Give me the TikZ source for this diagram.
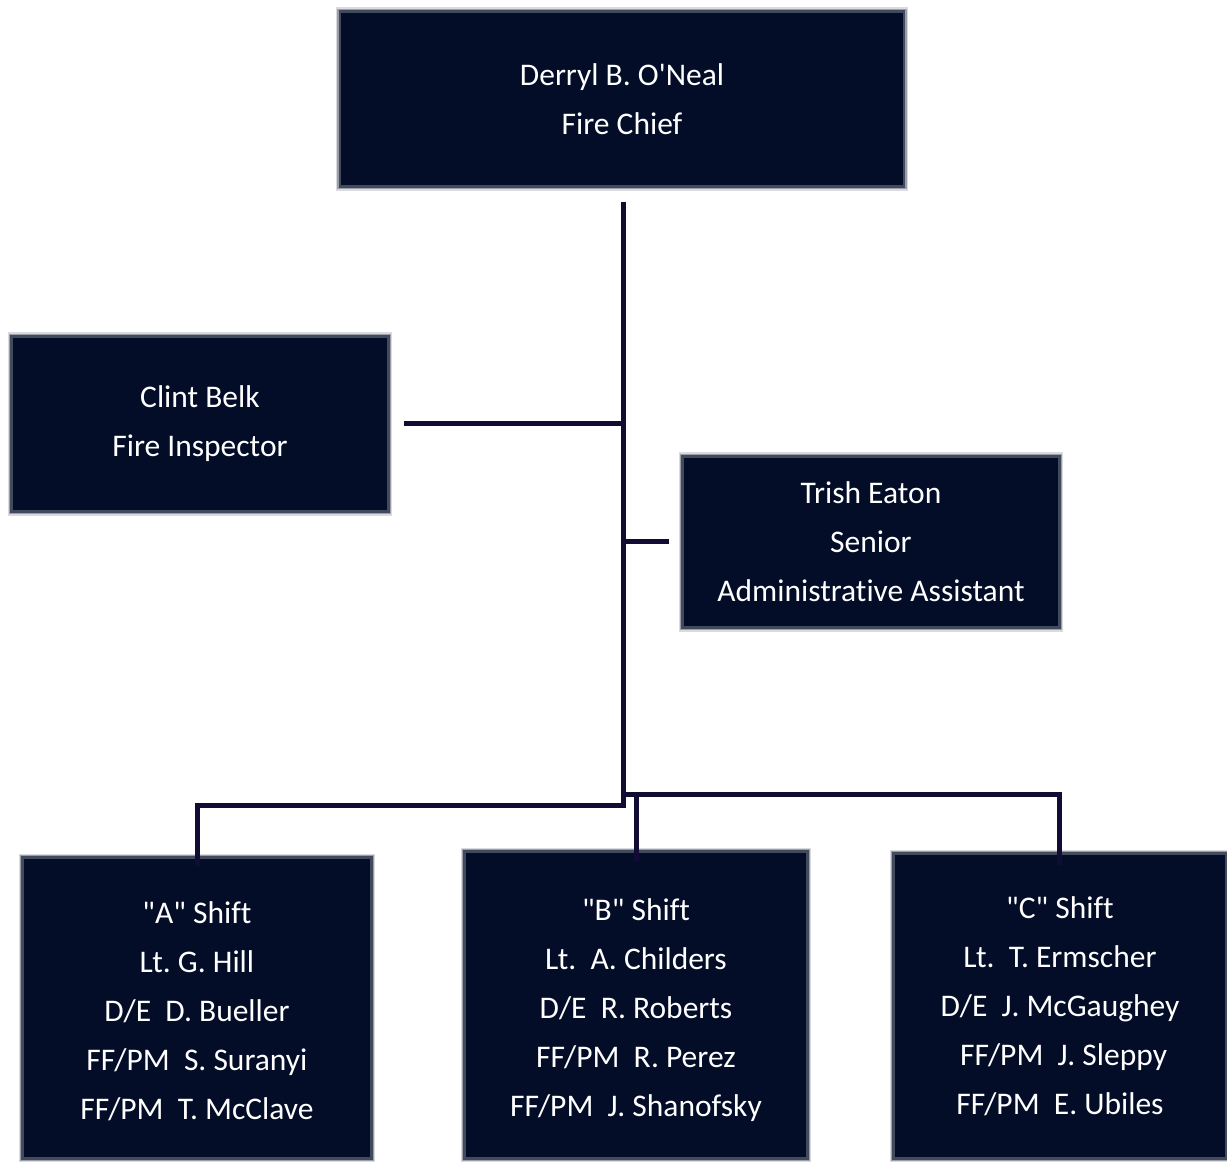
\documentclass[tikz,border=0pt]{standalone}
\usepackage{fontspec}
\newfontfamily\cf[Ligatures={NoCommon}]{Carlito}
\definecolor{boxc}{RGB}{3,13,40}
\definecolor{linec}{RGB}{16,12,52}
\begin{document}
\frenchspacing
\begin{tikzpicture}[x=1bp,y=-1bp,
  box/.style={rectangle, inner sep=0pt, fill=boxc,
    preaction={draw=boxc!15, line width=8bp},
    preaction={draw=boxc!40, line width=5.5bp},
    draw=boxc!75, line width=2.5bp,
    text=white, align=center, font=\cf\fontsize{31.5bp}{49bp}\selectfont\frenchspacing},
  conn/.style={draw=linec, line width=5bp}]
\useasboundingbox (0,0) rectangle (1227,1162);
\node[box, minimum width=566, minimum height=176] (chief) at (622,99) {Derryl B. O'Neal\\Fire Chief};
\node[box, minimum width=378, minimum height=176] (clint) at (200,424) {Clint Belk\\Fire Inspector};
\node[box, minimum width=378, minimum height=172] (trish) at (871,542) {Trish Eaton\\Senior\\Administrat\kern0pt ive Assistant};
\node[box, minimum width=350, minimum height=302] (A) at (197,1008) {\rule{0pt}{28bp}"A" Shift\\Lt. G. Hill\\D/E\ \ D. Bueller\\FF/PM\ \ S. Suranyi\\FF/PM\ \ T. McClave};
\node[box, minimum width=344, minimum height=308] (B) at (636,1005) {\rule{0pt}{33bp}"B" Shift\\Lt.\ \ A. Childers\\D/E\ \ R. Roberts\\FF/PM\ \ R. Perez\\FF/PM\ \ J. Shanofsky};
\node[box, minimum width=334, minimum height=306] (C) at (1060,1006) {"C" Shift\\Lt.\ \ T. Ermscher\\D/E\ \ J. McGaughey\\\hspace*{0.23em}FF/PM\ \ J. Sleppy\\FF/PM\ \ E. Ubiles};
\coordinate (jA) at (623,805.5);
\coordinate (jC) at (623,794.5);
\coordinate (jB) at (636.5,794.5);
% trunk
\draw[conn] ([yshift=-14bp]chief.south -| jA) -- ([yshift=2.5bp]jA);
% side branches
\draw[conn] ([xshift=14bp]clint.east |- 0,423) -- (623,423);
\draw[conn] ([xshift=-12bp]trish.west |- 0,541) -- (623,541);
% shifts
\draw[conn] ([xshift=2.5bp]jA) -| ([yshift=-10bp]A.north);
\draw[conn] (jC) -| ([yshift=-13bp]C.north -| 1059.5,0);
\draw[conn] ([yshift=-2.5bp]jB) -- ([yshift=-11bp]B.north -| jB);
\end{tikzpicture}
\end{document}
